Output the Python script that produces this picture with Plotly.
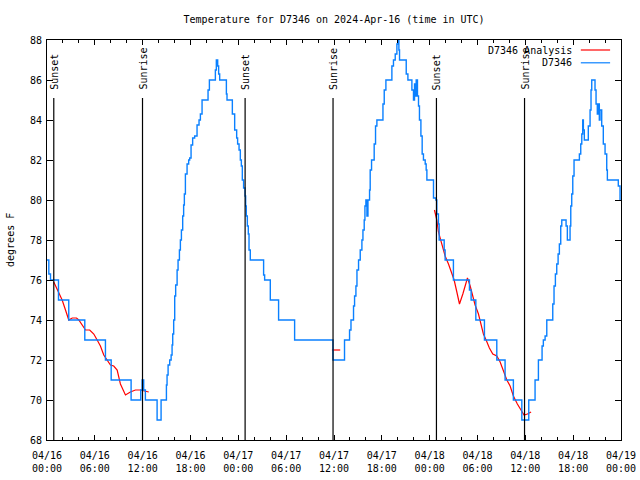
import pandas as pd
import plotly.graph_objects as go

# ---- data (hours since 2024-04-16 00:00 UTC, degrees F) ----
obs_hours = [0.0, 0.23, 0.44, 1.19, 1.44, 2.53, 2.73, 4.54, 4.74, 7.04, 7.33, 7.83, 8.05, 10.25, 10.55,
             11.56, 11.76, 11.93, 12.13, 12.34, 13.60, 13.81, 14.01, 14.31, 14.76, 14.98, 15.06, 15.19,
             15.39, 15.57, 15.69, 15.77, 15.89, 16.02, 16.14, 16.32, 16.44, 16.61, 16.73, 16.86, 17.02,
             17.14, 17.23, 17.36, 17.57, 17.77, 17.90, 18.07, 18.27, 18.52, 18.82, 19.07, 19.24, 19.45,
             20.08, 20.20, 20.37, 20.90, 21.12, 21.24, 21.41, 21.53, 21.66, 22.28, 22.50, 22.58, 23.09,
             23.25, 23.54, 23.79, 23.91, 24.09, 24.25, 24.38, 24.50, 24.66, 24.84, 24.92, 25.00, 25.13,
             25.25, 25.34, 25.50, 27.05, 27.17, 27.30, 27.80, 28.01, 28.76, 29.05, 30.86, 31.06, 35.62,
             35.87, 37.20, 37.32, 37.82, 37.95, 38.13, 38.33, 38.45, 38.58, 38.75, 38.88, 39.08, 39.29,
             39.50, 39.63, 39.79, 39.88, 40.00, 40.13, 40.26, 40.46, 40.54, 40.71, 40.88, 41.04, 41.21,
             41.38, 42.01, 42.14, 42.30, 42.51, 43.14, 43.26, 43.46, 43.68, 43.89, 44.02, 44.14, 44.22,
             44.93, 45.06, 45.27, 45.68, 45.77, 45.97, 46.10, 46.22, 46.31, 46.47, 46.60, 46.72, 46.90,
             47.06, 47.22, 47.44, 47.56, 47.65, 48.19, 48.48, 48.78, 48.90, 49.10, 49.19, 49.66, 49.82,
             49.94, 50.78, 50.98, 52.74, 52.99, 53.20, 53.62, 53.79, 54.67, 54.87, 56.30, 56.42, 57.25,
             57.46, 58.30, 58.50, 59.34, 59.56, 60.26, 60.43, 61.01, 61.22, 61.43, 61.64, 61.94, 62.10,
             62.26, 62.48, 62.69, 63.31, 63.44, 63.60, 63.77, 63.94, 64.11, 64.27, 64.44, 64.57, 64.98,
             65.11, 65.27, 65.52, 65.61, 65.70, 65.82, 65.95, 66.11, 66.65, 66.78, 66.95, 67.08, 67.20,
             67.28, 67.40, 67.70, 67.90, 68.12, 68.24, 68.33, 68.53, 68.74, 68.87, 69.03, 69.16, 69.28,
             69.37, 69.58, 69.78, 70.00, 70.21, 70.29, 71.54, 71.66, 71.88]
obs_temps = [77, 76.3, 76, 76, 75, 75, 74, 74, 73, 73, 72, 72, 71, 71, 70,
             70, 70.5, 71, 70.5, 70, 70, 69, 69, 70, 70, 70.75, 71.25, 71.75,
             72, 72.25, 72.75, 73.3, 74, 75.2, 75.75, 76.5, 77, 77.5, 78, 78.5, 79.2,
             79.75, 80.3, 81.3, 81.8, 82, 82.1, 82.75, 83.1, 83.2, 83.75, 84, 84.3, 85,
             85, 85.5, 86, 86, 86.5, 87, 86.7, 86.3, 86, 86, 85.3, 85, 85,
             84.3, 83.5, 83.1, 82.8, 82.5, 82, 81.7, 81, 80.6, 80.2, 79.7, 79.2, 78.7,
             78.3, 77.5, 77, 77, 76.25, 76, 76, 75, 75, 74, 74, 73, 73,
             72, 72, 73, 73, 73.5, 74, 74, 74.7, 75.2, 75.7, 76.5, 77, 77.5,
             78, 78.5, 79, 79.7, 80, 79.2, 80, 80.5, 81.5, 82, 82, 82.8, 83.7,
             84, 84, 84.8, 85.5, 86, 86, 86.7, 87, 87.3, 87.8, 88, 87.5, 87,
             87, 86.3, 86, 86, 85.5, 85, 85.8, 85.2, 86, 85.2, 84.7, 84, 83.2,
             82.3, 82, 81.8, 81.5, 81, 81, 80.1, 80, 79.3, 78.8, 78, 78, 77.5,
             77, 77, 76, 76, 75.5, 75, 75, 74, 74, 73, 73, 72, 72,
             71, 71, 70, 70, 69, 69, 70, 70, 71, 71, 72, 72, 72.7,
             73, 73.2, 74, 74, 74.8, 75.7, 76.3, 76.8, 77.3, 77.8, 78.7, 79, 79,
             78.7, 78, 78, 78.7, 79.7, 80.3, 81.2, 82, 82, 82.3, 82.8, 83.3, 84,
             83.5, 83, 83, 83.7, 84.5, 85.5, 86, 86, 85.5, 84.8, 84.3, 84.8, 84,
             84.5, 83.7, 82.8, 82.3, 81.5, 81, 81, 80.7, 80]

# analysis series: three segments separated by None
ana_hours = [0.85, 1.07, 1.48, 1.90, 2.32, 2.73, 3.16, 3.70, 3.99, 4.41, 4.83, 5.36, 5.87, 6.29,
             6.70, 7.12, 7.54, 7.96, 8.37, 8.80, 9.21, 9.84, 10.46, 11.09, 11.72, 12.76, None,
             35.74, 36.78, None,
             48.60, 48.90, 49.10, 49.32, 49.66, 49.94, 50.36, 50.66, 51.07, 51.41, 51.74, 52.16,
             52.74, 53.08, 53.41, 53.70, 54.12, 54.42, 54.74, 55.08, 55.49, 55.92, 56.42, 56.84,
             57.25, 57.68, 58.09, 58.50, 59.00, 59.43, 59.84, 60.26, 60.72]
ana_temps = [75.9, 75.7, 75.4, 75, 74.5, 74, 74.1, 74.1, 74, 73.75, 73.5, 73.5, 73.3, 73,
             72.7, 72.25, 72, 71.75, 71.7, 71.5, 70.8, 70.25, 70.4, 70.5, 70.5, 70.4, None,
             72.5, 72.5, None,
             79.5, 79, 78.4, 78.1, 77.7, 77.2, 76.8, 76.5, 76, 75.4, 74.8, 75.3,
             76.1, 75.7, 75.2, 74.75, 74.3, 73.8, 73.3, 73, 72.6, 72.3, 72.2, 71.9,
             71.5, 71, 70.7, 70.2, 69.8, 69.5, 69.25, 69.3, 69.4]

sun_hours = [0.85, 11.98, 24.85, 35.88, 48.85, 59.9]
sun_labels = ["Sunset", "Sunrise", "Sunset", "Sunrise", "Sunset", "Sunrise"]

y_ticks = [68, 70, 72, 74, 76, 78, 80, 82, 84, 86, 88]

# ---- build ----
base = pd.Timestamp("2024-04-16 00:00")
def to_t(h):
    return None if h is None else base + pd.Timedelta(hours=h)

FONT = "DejaVu Sans Mono"
BLUE = "#0a80ff"
RED = "#ff0000"

fig = go.Figure()
fig.add_trace(go.Scatter(x=[to_t(h) for h in ana_hours], y=ana_temps, mode="lines",
                         line=dict(color=RED, width=1.2), connectgaps=False,
                         name="D7346 Analysis", showlegend=False))
fig.add_trace(go.Scatter(x=[to_t(h) for h in obs_hours], y=obs_temps, mode="lines",
                         line=dict(color=BLUE, width=1.4, shape="hv"),
                         name="D7346", showlegend=False))

for h, lab in zip(sun_hours, sun_labels):
    t = to_t(h)
    fig.add_shape(type="line", xref="x", yref="y", x0=t, x1=t, y0=68, y1=85.1,
                  line=dict(color="black", width=1.2))
    fig.add_annotation(x=t, y=85.4, xref="x", yref="y", text=lab, textangle=-90,
                       showarrow=False, xanchor="center", yanchor="bottom",
                       font=dict(family=FONT, size=10, color="black"))

# legend (gnuplot style: text then sample)
for name, col, yp in [("D7346 Analysis", RED, 0.975), ("D7346", BLUE, 0.943)]:
    fig.add_annotation(x=0.918, y=yp, xref="paper", yref="paper", text=name, showarrow=False,
                       xanchor="right", yanchor="middle",
                       font=dict(family=FONT, size=10, color="black"))
    fig.add_shape(type="line", xref="paper", yref="paper", x0=0.930, x1=0.981, y0=yp, y1=yp,
                  line=dict(color=col, width=1.2))

fig.add_annotation(x=-0.0645, y=0.5, xref="paper", yref="paper", text="degrees F",
                   textangle=-90, showarrow=False, xanchor="center", yanchor="middle",
                   font=dict(family=FONT, size=10, color="black"))

fig.update_layout(
    width=640, height=480,
    margin=dict(l=47, r=19, t=40, b=40, autoexpand=False),
    paper_bgcolor="white", plot_bgcolor="white",
    font=dict(family=FONT, size=10, color="black"),
    title=dict(text="Temperature for D7346 on 2024-Apr-16 (time in UTC)",
               x=0.522, xanchor="center", y=0.960, yanchor="middle",
               font=dict(family=FONT, size=10, color="black")),
    showlegend=False,
)
fig.update_xaxes(type="date", range=[base, base + pd.Timedelta(hours=72)],
                 dtick=6 * 3600 * 1000, tick0=base, tickformat="%m/%d<br>%H:%M",
                 ticks="inside", ticklen=5, tickcolor="black", showline=True,
                 linecolor="black", linewidth=1, mirror="ticks", showgrid=False,
                 zeroline=False, ticklabelstandoff=6, automargin=False,
                 minor=dict(dtick=2 * 3600 * 1000, ticks="inside", ticklen=3,
                            tickcolor="black", showgrid=False))
fig.update_yaxes(range=[68, 88], tickvals=y_ticks, ticktext=[str(v) for v in y_ticks],
                 ticks="inside", ticklen=6, tickcolor="black", showline=True,
                 linecolor="black", linewidth=1, mirror="ticks", showgrid=False,
                 zeroline=False, automargin=False, ticklabelstandoff=2)

fig.write_html("out.html", config={"displayModeBar": False},
               post_script="document.body.style.margin='0';document.body.style.padding='0';")
